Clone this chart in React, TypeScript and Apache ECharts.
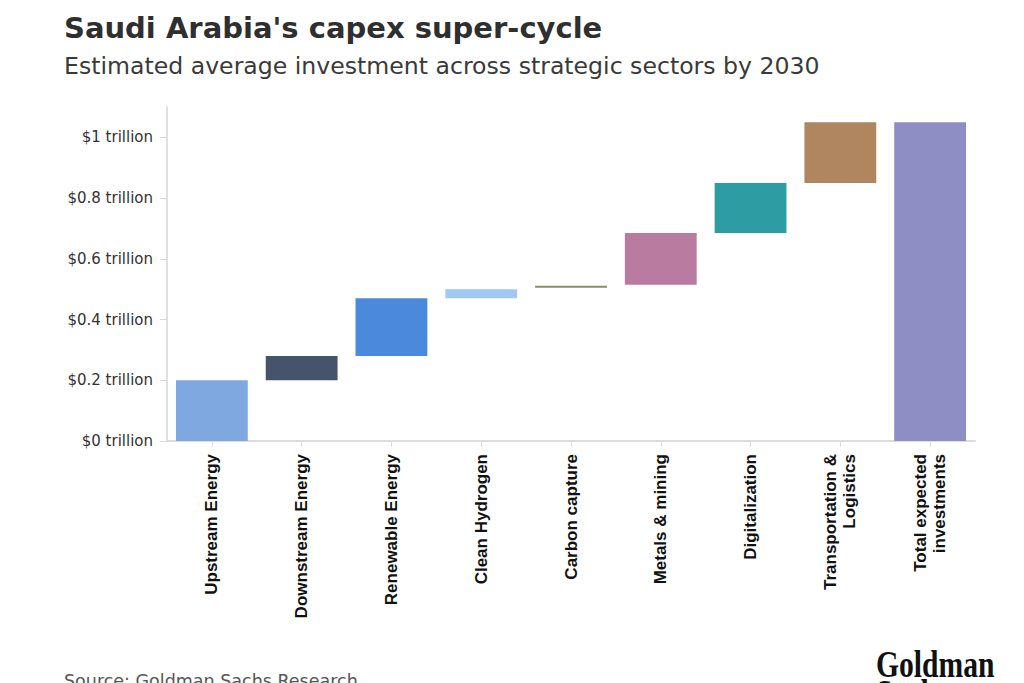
import React, { useEffect, useRef } from "react";
import * as echarts from "echarts";

const categories = [
  "Upstream Energy",
  "Downstream Energy",
  "Renewable Energy",
  "Clean Hydrogen",
  "Carbon capture",
  "Metals & mining",
  "Digitalization",
  "Transportation &\nLogistics",
  "Total expected\ninvestments",
];
// invisible base (start of each step), trillion USD
const bases = [0, 0.2, 0.28, 0.47, 0.505, 0.515, 0.685, 0.85, 0];
// visible step size, trillion USD
const values = [0.2, 0.08, 0.19, 0.03, 0.006, 0.17, 0.165, 0.2, 1.05];
const colors = [
  "#7fa8e0",
  "#44546a",
  "#4a89dc",
  "#a2c8f2",
  "#8a8c68",
  "#b97ca0",
  "#2e9da3",
  "#b08660",
  "#8e8ec4",
];
const yTicks = [0, 0.2, 0.4, 0.6, 0.8, 1];

export default function App() {
  const ref = useRef<HTMLDivElement>(null);
  useEffect(() => {
    document.body.style.margin = "0";
    if (!ref.current) return;
    const chart = echarts.init(ref.current, null, { renderer: "svg" });
    chart.setOption({
      animation: false,
      backgroundColor: "#ffffff",
      grid: { left: 167, right: 49, top: 107, bottom: 242 },
      graphic: [
        {
          type: "text",
          left: 64,
          top: 13,
          style: {
            text: "Saudi Arabia's capex super-cycle",
            font: 'bold 29px "DejaVu Sans", sans-serif',
            fill: "#2f2f2f",
          },
        },
        {
          type: "text",
          left: 64,
          top: 54,
          style: {
            text: "Estimated average investment across strategic sectors by 2030",
            font: '400 23.6px "DejaVu Sans", sans-serif',
            fill: "#3a3a3a",
          },
        },
        {
          type: "text",
          left: 64,
          top: 672,
          style: {
            text: "Source: Goldman Sachs Research",
            font: '400 17.5px "DejaVu Sans", sans-serif',
            fill: "#555555",
          },
        },
        {
          type: "text",
          x: 876,
          y: 645,
          scaleX: 0.78,
          style: {
            text: "Goldman",
            font: 'bold 38px "Liberation Serif", serif',
            fill: "#111111",
          },
        },
        {
          type: "text",
          x: 876,
          y: 674,
          scaleX: 0.78,
          style: {
            text: "Sachs",
            font: 'bold 38px "Liberation Serif", serif',
            fill: "#111111",
          },
        },
      ],
      xAxis: {
        type: "category",
        data: categories,
        axisLine: { show: true, lineStyle: { color: "#dcdcdc", width: 2 } },
        axisTick: { show: true, alignWithLabel: true, length: 6, lineStyle: { color: "#dcdcdc" } },
        axisLabel: {
          rotate: 90,
          interval: 0,
          margin: 13,
          color: "#111111",
          fontSize: 17,
          fontWeight: "bold",
          fontFamily: '"Liberation Sans", Arial, sans-serif',
          lineHeight: 19,
        },
      },
      yAxis: {
        type: "value",
        min: 0,
        max: 1.1,
        axisLine: { show: true, lineStyle: { color: "#e0e0e0", width: 2 } },
        axisTick: {
          show: true,
          length: 7,
          lineStyle: { color: "#d8d8d8" },
          customValues: yTicks,
        },
        splitLine: { show: false },
        axisLabel: {
          customValues: yTicks,
          margin: 14,
          color: "#333333",
          fontSize: 15,
          fontFamily: '"DejaVu Sans", sans-serif',
          formatter: (v: number) => `$${Math.round(v * 10) / 10} trillion`,
        },
      },
      series: [
        {
          type: "bar",
          stack: "w",
          data: bases,
          itemStyle: { color: "transparent" },
          barCategoryGap: "20%",
          silent: true,
        },
        {
          type: "bar",
          stack: "w",
          barCategoryGap: "20%",
          data: values.map((v, i) => ({ value: v, itemStyle: { color: colors[i] } })),
        },
      ],
    });
    return () => chart.dispose();
  }, []);
  return <div ref={ref} style={{ width: 1024, height: 683 }} />;
}
